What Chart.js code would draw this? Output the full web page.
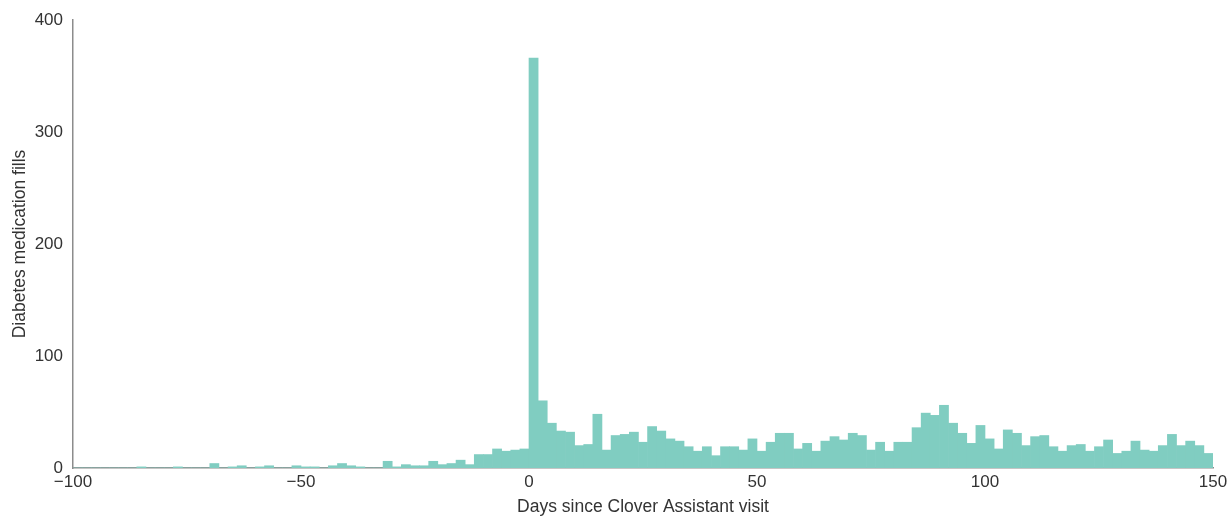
<!DOCTYPE html>
<html>
<head>
<meta charset="utf-8">
<script src="https://cdn.jsdelivr.net/npm/chart.js@4.4.0/dist/chart.umd.min.js"></script>
<style>
  html, body { margin: 0; padding: 0; background: #fff; }
  #wrap { width: 1229px; height: 516px; }
</style>
</head>
<body>
<div id="wrap"><canvas id="hist"></canvas></div>
<script>
// bins are 2 days wide, from -100 to 150
const binStart = -100;
const binWidth = 2;

// counts per bin, days -100 .. -2
const fillsBefore = [
  0, 0, 0, 0, 0, 0, 0, 1, 0, 0,
  0, 1, 0, 0, 0, 4, 0, 1, 2, 0,
  1, 2, 0, 0, 2, 1, 1, 0, 2, 4,
  2, 1, 0, 0, 6, 1, 3, 2, 2, 6,
  3, 4, 7, 3, 12, 12, 17, 15, 16, 17
];

// counts per bin, days 0 .. 148
const fillsAfter = [
  366, 60, 40, 33, 32, 20, 21, 48, 16, 29,
  30, 32, 23, 37, 33, 26, 24, 19, 15, 19,
  11, 19, 19, 16, 26, 15, 23, 31, 31, 17,
  22, 15, 24, 28, 25, 31, 29, 16, 23, 15,
  23, 23, 36, 49, 47, 56, 40, 31, 22, 38,
  26, 17, 34, 31, 20, 28, 29, 19, 15, 20,
  21, 15, 19, 25, 13, 15, 24, 16, 15, 20,
  30, 20, 24, 20, 13
];

const xTicks = [-100, -50, 0, 50, 100, 150];
const yTicks = [0, 100, 200, 300, 400];

const counts = fillsBefore.concat(fillsAfter);
const points = counts.map((c, i) => ({ x: binStart + i * binWidth + binWidth / 2, y: c }));

const textColor = '#333333';
const axisColor = '#8c8c8c';
const tickFont = { family: 'Liberation Sans, Arial, sans-serif', size: 17 };
const titleFont = { family: 'Liberation Sans, Arial, sans-serif', size: 17.5 };

new Chart(document.getElementById('hist'), {
  type: 'bar',
  data: {
    datasets: [{
      data: points,
      backgroundColor: '#80cdc1',
      borderWidth: 0,
      barPercentage: 1,
      categoryPercentage: 1
    }]
  },
  options: {
    responsive: true,
    maintainAspectRatio: false,
    animation: false,
    layout: { padding: { top: 20, right: 16, left: 0, bottom: 0 } },
    plugins: {
      legend: { display: false },
      tooltip: { enabled: false }
    },
    scales: {
      x: {
        type: 'linear',
        min: -100,
        max: 150,
        offset: false,
        grid: { display: false },
        border: { display: true, color: axisColor, width: 1.5 },
        afterBuildTicks: (scale) => { scale.ticks = xTicks.map(v => ({ value: v })); },
        afterFit: (scale) => { scale.height = 48; },
        ticks: {
          color: textColor,
          font: tickFont,
          padding: -4,
          maxRotation: 0,
          callback: (v) => String(v).replace('-', '\u2212')
        },
        title: {
          display: true,
          text: 'Days since Clover Assistant visit',
          color: textColor,
          font: { ...titleFont, lineHeight: 1 },
          padding: { top: 1, bottom: 0 }
        }
      },
      y: {
        min: 0,
        max: 400,
        grid: { display: false },
        border: { display: true, color: axisColor, width: 1.5 },
        afterBuildTicks: (scale) => { scale.ticks = yTicks.map(v => ({ value: v })); },
        afterFit: (scale) => { scale.width = 73; },
        ticks: {
          color: textColor,
          font: tickFont,
          padding: 2
        },
        title: {
          display: true,
          text: 'Diabetes medication fills',
          color: textColor,
          font: titleFont,
          padding: { top: 10, bottom: 0 }
        }
      }
    }
  }
});
</script>
</body>
</html>
